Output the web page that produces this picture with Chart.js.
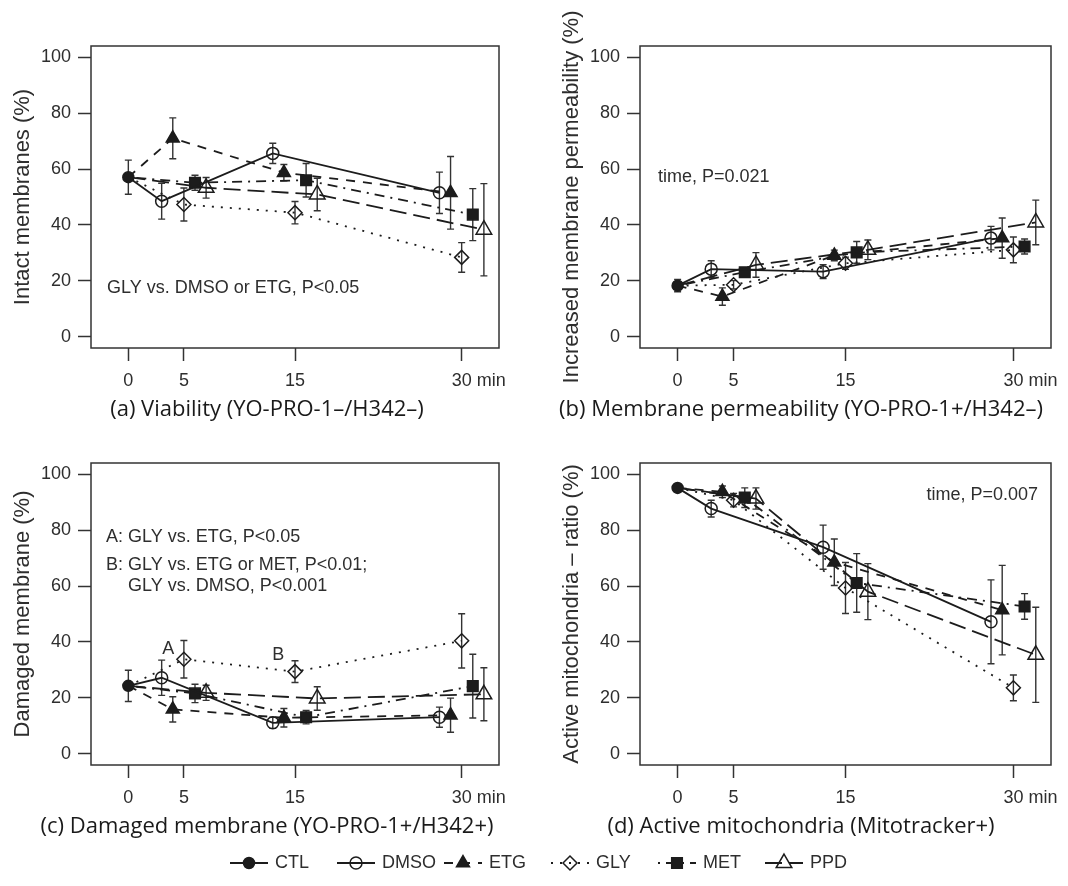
<!DOCTYPE html>
<html>
<head>
<meta charset="utf-8">
<script src="https://cdn.jsdelivr.net/npm/chart.js@4.4.1/dist/chart.umd.min.js"></script>
<style>
  html, body { margin: 0; padding: 0; background: #fff; }
  #wrap { position: relative; width: 1068px; height: 886px; overflow: hidden; }
  #wrap canvas { position: absolute; left: 0; top: 0; }
</style>
</head>
<body>
<div id="wrap">
  <canvas id="pa" width="1068" height="886"></canvas>
  <canvas id="pb" width="1068" height="886"></canvas>
  <canvas id="pc" width="1068" height="886"></canvas>
  <canvas id="pd" width="1068" height="886"></canvas>
</div>
<script>
// =================== DATA ===================
const SERIES = ["CTL", "DMSO", "ETG", "GLY", "MET", "PPD"];

// sampling times (min); treatments are drawn side by side around 5, 15 and 30
const xCTL = [0];
const xDMSO = [3, 13, 28];
const xETG = [4, 14, 29];
const xGLY = [5, 15, 30];
const xMET = [6, 16, 31];
const xPPD = [7, 17, 32];

const xTicks = [0, 5, 15, 30];
const yTicks = [0, 20, 40, 60, 80, 100];

// (a) viability - intact membranes (%), mean and error
const viaCTL = [57.1];
const viaCTLErr = [6.1];
const viaDMSO = [48.5, 65.6, 51.5];
const viaDMSOErr = [6.4, 3.6, 7.4];
const viaETG = [71.0, 58.7, 51.5];
const viaETGErr = [7.3, 2.9, 13.0];
const viaGLY = [47.3, 44.4, 28.4];
const viaGLYErr = [5.9, 4.0, 5.3];
const viaMET = [55.1, 56.0, 43.7];
const viaMETErr = [2.7, 6.0, 9.3];
const viaPPD = [53.3, 50.9, 38.3];
const viaPPDErr = [3.7, 5.8, 16.5];

// (b) increased membrane permeability (%)
const permCTL = [18.3];
const permCTLErr = [2.2];
const permDMSO = [24.2, 23.3, 35.3];
const permDMSOErr = [3.0, 2.5, 4.2];
const permETG = [14.4, 29.1, 35.3];
const permETGErr = [3.1, 1.9, 7.2];
const permGLY = [18.6, 26.3, 31.1];
const permGLYErr = [1.5, 2.2, 4.6];
const permMET = [23.1, 30.2, 32.3];
const permMETErr = [1.0, 3.9, 2.7];
const permPPD = [25.7, 31.1, 40.9];
const permPPDErr = [4.4, 3.5, 8.0];

// (c) damaged membrane (%)
const damCTL = [24.3];
const damCTLErr = [5.6];
const damDMSO = [27.2, 11.1, 13.1];
const damDMSOErr = [6.3, 2.0, 3.6];
const damETG = [15.9, 12.9, 13.8];
const damETGErr = [4.5, 3.3, 6.1];
const damGLY = [33.8, 29.4, 40.4];
const damGLYErr = [6.7, 3.9, 9.7];
const damMET = [21.6, 13.1, 24.2];
const damMETErr = [3.3, 2.4, 11.4];
const damPPD = [21.8, 19.8, 21.3];
const damPPDErr = [2.7, 4.2, 9.5];

// (d) active mitochondria - ratio (%)
const mitoCTL = [95.1];
const mitoCTLErr = [0.8];
const mitoDMSO = [87.7, 73.9, 47.2];
const mitoDMSOErr = [3.0, 7.9, 15.0];
const mitoETG = [93.7, 68.5, 51.4];
const mitoETGErr = [2.1, 8.3, 16.0];
const mitoGLY = [90.7, 59.3, 23.6];
const mitoGLYErr = [2.4, 9.1, 4.6];
const mitoMET = [91.6, 61.1, 52.7];
const mitoMETErr = [3.5, 10.5, 4.6];
const mitoPPD = [91.3, 58.0, 35.4];
const mitoPPDErr = [3.8, 10.0, 17.0];

// =================== STYLE ===================
const FONT = "'Liberation Sans', Arial, Helvetica, sans-serif";
const TITLE_FONT = "'Open Sans', sans-serif";
const INK = "#1c1c1c";
const TEXT = "#2e2e2e";

const STYLE = {
  CTL: { shape: "circle", r: 5.5, filled: true, dash: [] },
  DMSO: { shape: "circle", r: 6, filled: false, dash: [] },
  ETG: { shape: "triangle", r: 7.5, filled: true, dash: [9, 8] },
  GLY: { shape: "rectRot", r: 7, filled: false, dash: [2, 7] },
  MET: { shape: "rect", r: 7.5, filled: true, dash: [2, 6, 10, 6] },
  PPD: { shape: "triangle", r: 9, filled: false, dash: [17, 7] },
};

const X = { CTL: xCTL, DMSO: xDMSO, ETG: xETG, GLY: xGLY, MET: xMET, PPD: xPPD };

const PANELS = [
  {
    id: "pa",
    box: { left: 91, top: 46, right: 499, bottom: 348 },
    yTitle: "Intact membranes (%)",
    title: "(a) Viability (YO-PRO-1\u2013/H342\u2013)",
    titleX: 267,
    values: { CTL: viaCTL, DMSO: viaDMSO, ETG: viaETG, GLY: viaGLY, MET: viaMET, PPD: viaPPD },
    errors: { CTL: viaCTLErr, DMSO: viaDMSOErr, ETG: viaETGErr, GLY: viaGLYErr, MET: viaMETErr, PPD: viaPPDErr },
    notes: [{ text: "GLY vs. DMSO or ETG, P<0.05", dx: 16, dy: 242 }],
    letters: [],
  },
  {
    id: "pb",
    box: { left: 640, top: 46, right: 1051, bottom: 348 },
    yTitle: "Increased membrane permeability (%)",
    title: "(b) Membrane permeability (YO-PRO-1+/H342\u2013)",
    titleX: 801,
    values: { CTL: permCTL, DMSO: permDMSO, ETG: permETG, GLY: permGLY, MET: permMET, PPD: permPPD },
    errors: { CTL: permCTLErr, DMSO: permDMSOErr, ETG: permETGErr, GLY: permGLYErr, MET: permMETErr, PPD: permPPDErr },
    notes: [{ text: "time, P=0.021", dx: 18, dy: 131 }],
    letters: [],
  },
  {
    id: "pc",
    box: { left: 91, top: 463, right: 499, bottom: 765 },
    yTitle: "Damaged membrane (%)",
    title: "(c) Damaged membrane (YO-PRO-1+/H342+)",
    titleX: 267,
    values: { CTL: damCTL, DMSO: damDMSO, ETG: damETG, GLY: damGLY, MET: damMET, PPD: damPPD },
    errors: { CTL: damCTLErr, DMSO: damDMSOErr, ETG: damETGErr, GLY: damGLYErr, MET: damMETErr, PPD: damPPDErr },
    notes: [
      { text: "A: GLY vs. ETG, P<0.05", dx: 15, dy: 74 },
      { text: "B: GLY vs. ETG or MET, P<0.01;", dx: 15, dy: 102 },
      { text: "GLY vs. DMSO, P<0.001", dx: 37, dy: 123 },
    ],
    letters: [
      { text: "A", x: 3.6, y: 37.5 },
      { text: "B", x: 13.5, y: 35.3 },
    ],
  },
  {
    id: "pd",
    box: { left: 640, top: 463, right: 1051, bottom: 765 },
    yTitle: "Active mitochondria \u2013 ratio (%)",
    title: "(d) Active mitochondria (Mitotracker+)",
    titleX: 801,
    values: { CTL: mitoCTL, DMSO: mitoDMSO, ETG: mitoETG, GLY: mitoGLY, MET: mitoMET, PPD: mitoPPD },
    errors: { CTL: mitoCTLErr, DMSO: mitoDMSOErr, ETG: mitoETGErr, GLY: mitoGLYErr, MET: mitoMETErr, PPD: mitoPPDErr },
    notes: [{ text: "time, P=0.007", dx: 13, dy: 32, align: "right" }],
    letters: [],
  },
];

const Y_AXIS_W = 91;
const X_AXIS_H = 60;
const LEGEND_X = 230;
const LEGEND_STEP = 107;
const LEGEND_Y = 863;

// =================== PLUGINS ===================
const errorBars = {
  id: "errorBars",
  beforeDatasetsDraw(chart) {
    const { ctx, scales } = chart;
    ctx.save();
    ctx.strokeStyle = "#333";
    ctx.lineWidth = 1.4;
    chart.data.datasets.forEach((ds) => {
      ds.data.forEach((p, i) => {
        const e = ds.errors[i];
        if (e == null) return;
        const px = scales.x.getPixelForValue(p.x);
        const top = scales.y.getPixelForValue(p.y + e);
        const bot = scales.y.getPixelForValue(p.y - e);
        ctx.beginPath();
        ctx.moveTo(px, top);
        ctx.lineTo(px, bot);
        ctx.moveTo(px - 3.5, top);
        ctx.lineTo(px + 3.5, top);
        ctx.moveTo(px - 3.5, bot);
        ctx.lineTo(px + 3.5, bot);
        ctx.stroke();
      });
    });
    ctx.restore();
  },
};

const panelDecor = {
  id: "panelDecor",
  afterDraw(chart, args, opts) {
    const { ctx, chartArea: a, scales } = chart;
    ctx.save();
    ctx.strokeStyle = "#333";
    ctx.lineWidth = 1.5;
    ctx.strokeRect(a.left, a.top, a.right - a.left, a.bottom - a.top);

    ctx.fillStyle = TEXT;
    ctx.font = `18px ${FONT}`;
    ctx.textBaseline = "middle";

    // unit written after the last x tick label
    const last = xTicks[xTicks.length - 1];
    const xl = scales.x.getPixelForValue(last);
    const wl = ctx.measureText(String(last)).width;
    ctx.textAlign = "left";
    ctx.fillText("min", xl + wl / 2 + 5, a.bottom + 13 + 9 + 10.8);

    opts.notes.forEach((n) => {
      const right = n.align === "right";
      ctx.textAlign = right ? "right" : "left";
      ctx.fillText(n.text, right ? a.right - n.dx : a.left + n.dx, a.top + n.dy);
    });
    opts.letters.forEach((l) => {
      ctx.textAlign = "center";
      ctx.fillText(l.text, scales.x.getPixelForValue(l.x), scales.y.getPixelForValue(l.y));
    });

    ctx.font = `22px ${TITLE_FONT}`;
    ctx.textAlign = "center";
    ctx.fillStyle = "#1a1a1a";
    ctx.fillText(opts.title, opts.titleX, a.bottom + 62);
    ctx.restore();
  },
};

function drawMarker(ctx, st, x, y) {
  ctx.fillStyle = st.filled ? INK : "rgba(0,0,0,0)";
  ctx.strokeStyle = INK;
  ctx.lineWidth = 1.5;
  ctx.setLineDash([]);
  Chart.helpers.drawPoint(ctx, { pointStyle: st.shape, radius: st.r, borderWidth: 1.5, rotation: 0 }, x, y);
}

const legendRow = {
  id: "legendRow",
  afterDraw(chart) {
    const ctx = chart.ctx;
    ctx.save();
    ctx.font = `18px ${FONT}`;
    ctx.textBaseline = "middle";
    ctx.textAlign = "left";
    SERIES.forEach((name, i) => {
      const st = STYLE[name];
      const x0 = LEGEND_X + i * LEGEND_STEP;
      ctx.strokeStyle = INK;
      ctx.lineWidth = 1.8;
      ctx.setLineDash(st.dash);
      ctx.beginPath();
      ctx.moveTo(x0, LEGEND_Y);
      ctx.lineTo(x0 + 38, LEGEND_Y);
      ctx.stroke();
      drawMarker(ctx, st, x0 + 19, LEGEND_Y);
      ctx.fillStyle = TEXT;
      ctx.fillText(name, x0 + 45, LEGEND_Y);
    });
    ctx.restore();
  },
};

// =================== CHARTS ===================
function buildDatasets(p) {
  const base = p.values.CTL[0];
  return SERIES.map((name) => {
    const st = STYLE[name];
    const isCtl = name === "CTL";
    // every treatment line starts from the control value at time 0
    const data = isCtl ? [] : [{ x: 0, y: base }];
    const errors = isCtl ? [] : [null];
    X[name].forEach((x, i) => {
      data.push({ x, y: p.values[name][i] });
      errors.push(p.errors[name][i]);
    });
    return {
      label: name,
      data,
      errors,
      showLine: !isCtl,
      borderColor: INK,
      borderWidth: 1.8,
      borderDash: st.dash,
      borderCapStyle: "butt",
      pointStyle: st.shape,
      pointRadius: data.map((d, i) => (!isCtl && i === 0 ? 0 : st.r)),
      pointBorderWidth: 1.5,
      pointBorderColor: INK,
      pointBackgroundColor: st.filled ? INK : "rgba(0,0,0,0)",
      tension: 0,
    };
  });
}

PANELS.forEach((p, idx) => {
  const b = p.box;
  new Chart(document.getElementById(p.id), {
    type: "scatter",
    data: { datasets: buildDatasets(p) },
    options: {
      responsive: false,
      animation: false,
      devicePixelRatio: 1,
      events: [],
      layout: {
        autoPadding: false,
        padding: {
          left: b.left - Y_AXIS_W,
          top: b.top,
          right: 1068 - b.right,
          bottom: 886 - b.bottom - X_AXIS_H,
        },
      },
      plugins: {
        legend: { display: false },
        tooltip: { enabled: false },
        panelDecor: { title: p.title, titleX: p.titleX, notes: p.notes, letters: p.letters },
      },
      scales: {
        x: {
          type: "linear",
          min: -3.36,
          max: 33.36,
          afterBuildTicks: (s) => { s.ticks = xTicks.map((v) => ({ value: v })); },
          afterFit: (s) => { s.height = X_AXIS_H; },
          grid: { display: true, drawOnChartArea: false, drawTicks: true, tickLength: 13, tickWidth: 1.5, tickColor: "#333" },
          border: { display: false },
          ticks: { color: TEXT, font: { family: FONT, size: 18 }, padding: 9, maxRotation: 0, autoSkip: false },
        },
        y: {
          type: "linear",
          min: -4,
          max: 104,
          afterBuildTicks: (s) => { s.ticks = yTicks.map((v) => ({ value: v })); },
          afterFit: (s) => { s.width = Y_AXIS_W; },
          grid: { display: true, drawOnChartArea: false, drawTicks: true, tickLength: 13, tickWidth: 1.5, tickColor: "#333" },
          border: { display: false },
          ticks: { color: TEXT, font: { family: FONT, size: 18 }, padding: 7 },
          title: {
            display: true,
            text: p.yTitle,
            color: TEXT,
            font: { family: FONT, size: 22 },
            padding: { top: 10, bottom: 0 },
          },
        },
      },
    },
    plugins: idx === PANELS.length - 1 ? [errorBars, panelDecor, legendRow] : [errorBars, panelDecor],
  });
});
</script>
</body>
</html>
